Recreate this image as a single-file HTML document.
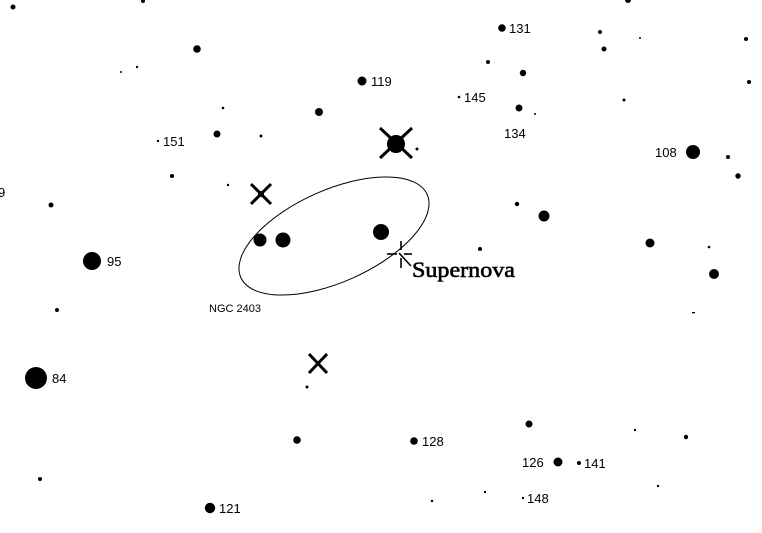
<!DOCTYPE html>
<html><head><meta charset="utf-8"><style>
html,body{margin:0;padding:0;background:#fff;}
svg{display:block;}
text{font-family:"Liberation Sans",sans-serif;font-size:13px;fill:#000;}
</style></head><body>
<svg width="762" height="533" viewBox="0 0 762 533" xmlns="http://www.w3.org/2000/svg">
<g fill="#000">
<circle cx="13" cy="7" r="2.5"/><circle cx="143" cy="1" r="2"/><circle cx="628" cy="0" r="3"/>
<circle cx="197" cy="49" r="3.8"/><circle cx="121" cy="72" r="1"/><circle cx="137" cy="67" r="1.2"/>
<circle cx="362" cy="81" r="4.5"/><circle cx="223" cy="108" r="1.3"/><circle cx="319" cy="112" r="4"/>
<circle cx="217" cy="134" r="3.5"/><circle cx="261" cy="136" r="1.5"/><circle cx="158" cy="141" r="1.2"/>
<circle cx="172" cy="176" r="2"/><circle cx="228" cy="185" r="1.2"/><circle cx="261" cy="194" r="3"/>
<circle cx="51" cy="205" r="2.5"/><circle cx="260" cy="240" r="6.5"/><circle cx="283" cy="240" r="7.5"/>
<circle cx="381" cy="232" r="8"/><circle cx="92" cy="261" r="9"/>
<circle cx="396" cy="144" r="9"/><circle cx="417" cy="149" r="1.5"/>
<circle cx="502" cy="28" r="3.8"/><circle cx="600" cy="32" r="2"/><circle cx="604" cy="49" r="2.5"/>
<circle cx="640" cy="38" r="1"/><circle cx="746" cy="39" r="2"/><circle cx="749" cy="82" r="2"/>
<circle cx="488" cy="62" r="2"/><circle cx="523" cy="73" r="3.2"/><circle cx="459" cy="97" r="1.3"/>
<circle cx="519" cy="108" r="3.5"/><circle cx="535" cy="114" r="1"/><circle cx="624" cy="100" r="1.5"/>
<circle cx="693" cy="152" r="7"/><circle cx="728" cy="157" r="2"/><circle cx="738" cy="176" r="2.7"/>
<circle cx="517" cy="204" r="2.2"/><circle cx="544" cy="216" r="5.5"/><circle cx="480" cy="249" r="2"/>
<circle cx="650" cy="243" r="4.5"/><circle cx="709" cy="247" r="1.3"/><circle cx="714" cy="274" r="5"/>
<rect x="692" y="312" width="3" height="1.3"/>
<circle cx="57" cy="310" r="2"/><circle cx="36" cy="378" r="11"/><circle cx="307" cy="387" r="1.5"/>
<circle cx="297" cy="440" r="3.8"/><circle cx="40" cy="479" r="2"/><circle cx="210" cy="508" r="5.2"/>
<circle cx="529" cy="424" r="3.5"/><circle cx="414" cy="441" r="3.8"/><circle cx="558" cy="462" r="4.5"/>
<circle cx="579" cy="463" r="2"/><circle cx="635" cy="430" r="1.2"/><circle cx="686" cy="437" r="2.2"/>
<circle cx="485" cy="492" r="1.2"/><circle cx="432" cy="501" r="1.2"/><circle cx="523" cy="498" r="1.2"/>
<circle cx="658" cy="486" r="1.2"/>
</g>
<g stroke="#000" stroke-width="3" stroke-linecap="butt">
<line x1="380" y1="128" x2="412" y2="158"/><line x1="412" y1="128" x2="380" y2="158"/>
<line x1="251" y1="184" x2="271" y2="204"/><line x1="271" y1="184" x2="251" y2="204"/>
<line x1="309" y1="354" x2="327" y2="373"/><line x1="327" y1="354" x2="309" y2="373"/>
</g>
<ellipse cx="334" cy="236" rx="102" ry="46" transform="rotate(-24 334 236)" fill="none" stroke="#000" stroke-width="1"/>
<g stroke="#000" stroke-width="1.6">
<line x1="401" y1="241" x2="401" y2="250"/><line x1="401" y1="258" x2="401" y2="268"/>
<line x1="387" y1="254" x2="397" y2="254"/><line x1="404" y1="254" x2="412" y2="254"/>
<line x1="399" y1="253" x2="411" y2="266"/>
</g>
<text x="412" y="277" textLength="103" lengthAdjust="spacingAndGlyphs" style="font-family:'Liberation Serif',serif;font-size:22px;stroke:#000;stroke-width:0.6">Supernova</text>
<text x="-2" y="197">9</text>
<text x="371" y="86">119</text>
<text x="163" y="146">151</text>
<text x="509" y="33">131</text>
<text x="464" y="102">145</text>
<text x="504" y="138">134</text>
<text x="655" y="157">108</text>
<text x="107" y="266">95</text>
<text x="52" y="383">84</text>
<text x="209" y="312" style="font-size:11px">NGC 2403</text>
<text x="219" y="513">121</text>
<text x="422" y="446">128</text>
<text x="522" y="467">126</text>
<text x="584" y="468">141</text>
<text x="527" y="503">148</text>
</svg>
</body></html>
